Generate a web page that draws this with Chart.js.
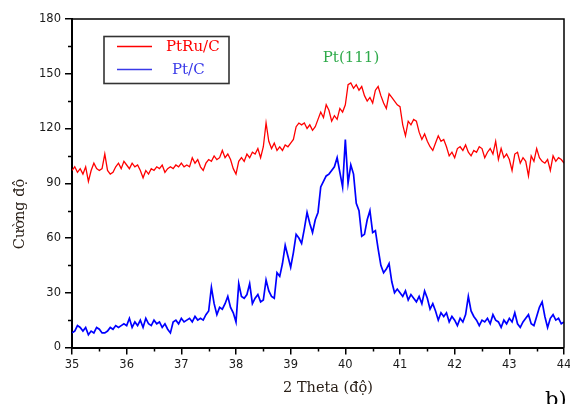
<!DOCTYPE html>
<html>
<head>
<meta charset="utf-8">
<script src="https://cdn.jsdelivr.net/npm/chart.js@4.4.1/dist/chart.umd.min.js"></script>
<style>
  html, body { margin: 0; padding: 0; background: #fff; }
  canvas { display: block; }
</style>
</head>
<body>
<canvas id="c" width="570" height="404"></canvas>
<script>
// ---- Data ----
// 2θ sampling grid: 35.00 .. 44.00 in steps of 0.05 degrees
const twoTheta = Array.from({ length: 181 }, (_, i) => +(35 + i * 0.05).toFixed(2));

const ptRuC = [
  97, 99, 96, 98, 95, 99, 91, 97, 101, 98, 97, 98, 106, 97, 95, 96, 99, 101, 98, 102,
  100, 98, 101, 99, 100, 97, 93, 97, 95, 98, 97, 99, 98, 100, 96, 98, 99, 98, 100, 99,
  101, 99, 100, 99, 104, 101, 103, 99, 97, 101, 103, 102, 105, 103, 104, 108, 104, 106, 103, 98,
  95, 102, 104, 102, 106, 104, 107, 106, 109, 104, 110, 123, 113, 109, 112, 108, 110, 108, 111, 110,
  112, 114, 121, 123, 122, 123, 120, 122, 119, 121, 125, 129, 126, 133, 130, 124, 127, 125, 131, 129,
  133, 144, 145, 142, 144, 141, 143, 138, 135, 137, 134, 141, 143, 138, 134, 131, 139, 137, 135, 133,
  132, 122, 116, 124, 122, 125, 124, 118, 114, 117, 113, 110, 108, 112, 116, 113, 114, 110, 105, 107,
  104, 109, 110, 108, 111, 107, 105, 108, 107, 110, 109, 104, 107, 109, 106, 113, 103, 109, 104, 106,
  103, 97, 106, 107, 101, 104, 102, 94, 105, 102, 109, 104, 102, 101, 103, 97, 105, 102, 104, 103,
  101
];

const ptC = [
  8, 9, 12, 11, 9, 11, 7, 9, 8, 11, 10, 8, 8, 9, 11, 10, 12, 11, 12, 13,
  12, 16, 11, 14, 12, 15, 11, 16, 13, 12, 15, 13, 14, 11, 13, 10, 8, 14, 15, 13,
  16, 14, 15, 16, 14, 17, 15, 16, 15, 18, 20, 33, 24, 18, 22, 21, 24, 28, 22, 19,
  14, 35, 28, 27, 29, 35, 24, 27, 29, 25, 26, 37, 31, 28, 27, 41, 39, 46, 56, 50,
  44, 52, 62, 60, 57, 65, 74, 68, 63, 70, 74, 88, 91, 94, 95, 97, 99, 104, 96, 88,
  114, 90, 100, 95, 79, 75, 61, 62, 70, 75, 63, 64, 54, 45, 41, 43, 46, 36, 30, 32,
  30, 28, 31, 26, 29, 27, 25, 28, 24, 31, 27, 21, 24, 20, 15, 19, 17, 19, 14, 17,
  15, 12, 16, 14, 18, 28, 20, 17, 15, 12, 15, 14, 16, 13, 18, 15, 14, 11, 15, 13,
  16, 14, 19, 13, 11, 14, 16, 18, 13, 12, 17, 22, 25, 17, 11, 16, 18, 15, 16, 13,
  14
];

const seriesNames = ['PtRu/C', 'Pt/C'];
const xMajorTicks = [35, 36, 37, 38, 39, 40, 41, 42, 43, 44];
const xMinorTicks = [35.5, 36.5, 37.5, 38.5, 39.5, 40.5, 41.5, 42.5, 43.5];
const yMajorTicks = [0, 30, 60, 90, 120, 150, 180];
const yMinorTicks = [15, 45, 75, 105, 135, 165];
const xTitle = '2 Theta (độ)';
const yTitle = 'Cường độ';
const peakLabel = 'Pt(111)';
const panelLabel = 'b)';

// ---- Styling ----
const RED = '#ff0000';
const BLUE = '#0000ff';
const TICK_FONT = { family: 'DejaVu Sans', size: 11.5 };
const SERIF = '"DejaVu Serif", "Liberation Serif", serif';

const overlay = {
  id: 'overlay',
  afterDraw(chart) {
    const { ctx, chartArea: a, scales: { x, y } } = chart;
    ctx.save();
    // top and right frame
    ctx.strokeStyle = '#000';
    ctx.lineWidth = 1.5;
    ctx.beginPath();
    ctx.moveTo(a.left, a.top);
    ctx.lineTo(a.right, a.top);
    ctx.lineTo(a.right, a.bottom);
    ctx.stroke();
    // minor ticks (outward)
    ctx.lineWidth = 1.5;
    ctx.beginPath();
    yMinorTicks.forEach(v => {
      const py = Math.round(y.getPixelForValue(v)) + 0.5;
      ctx.moveTo(a.left - 4, py); ctx.lineTo(a.left, py);
    });
    xMinorTicks.forEach(v => {
      const px = Math.round(x.getPixelForValue(v)) + 0.5;
      ctx.moveTo(px, a.bottom); ctx.lineTo(px, a.bottom + 4);
    });
    ctx.stroke();

    // legend box
    ctx.strokeStyle = '#333';
    ctx.lineWidth = 1.6;
    ctx.strokeRect(104, 36.5, 125, 47);
    ctx.lineWidth = 1.3;
    ctx.strokeStyle = RED;
    ctx.beginPath(); ctx.moveTo(117, 46.5); ctx.lineTo(152, 46.5); ctx.stroke();
    ctx.strokeStyle = '#3a3ae8';
    ctx.beginPath(); ctx.moveTo(117, 69.5); ctx.lineTo(152, 69.5); ctx.stroke();
    ctx.font = '15px ' + SERIF;
    ctx.textBaseline = 'middle';
    ctx.textAlign = 'left';
    ctx.fillStyle = RED;
    ctx.fillText(seriesNames[0], 166, 47);
    ctx.fillStyle = '#3a3ae8';
    ctx.fillText(seriesNames[1], 172, 70);

    // peak label
    ctx.fillStyle = '#2eaa4a';
    ctx.textAlign = 'center';
    ctx.fillText(peakLabel, 351, 58);

    // axis titles
    ctx.fillStyle = '#2a2018';
    ctx.font = '14.5px ' + SERIF;
    ctx.fillText(xTitle, 328, 388);
    ctx.save();
    ctx.translate(20, 214);
    ctx.rotate(-Math.PI / 2);
    ctx.fillText(yTitle, 0, 0);
    ctx.restore();

    // panel label
    ctx.fillStyle = '#000';
    ctx.font = '21px ' + SERIF;
    ctx.textAlign = 'left';
    ctx.textBaseline = 'alphabetic';
    ctx.fillText(panelLabel, 545, 406);
    ctx.restore();
  }
};

new Chart(document.getElementById('c'), {
  type: 'line',
  data: {
    labels: twoTheta,
    datasets: [
      {
        label: seriesNames[0],
        data: twoTheta.map((t, i) => ({ x: t, y: ptRuC[i] })),
        borderColor: RED,
        borderWidth: 1.3,
        pointRadius: 0,
        tension: 0,
        fill: false
      },
      {
        label: seriesNames[1],
        data: twoTheta.map((t, i) => ({ x: t, y: ptC[i] })),
        borderColor: BLUE,
        borderWidth: 1.7,
        pointRadius: 0,
        tension: 0,
        fill: false
      }
    ]
  },
  options: {
    responsive: false,
    devicePixelRatio: 1,
    animation: false,
    layout: { padding: { top: 19, right: 6, left: 0, bottom: 0 } },
    plugins: { legend: { display: false }, tooltip: { enabled: false } },
    scales: {
      x: {
        type: 'linear',
        min: 35,
        max: 44,
        afterBuildTicks: s => { s.ticks = xMajorTicks.map(v => ({ value: v })); },
        afterFit: s => { s.height = 56.5; s.paddingLeft = 0; s.paddingRight = 0; },
        ticks: { font: TICK_FONT, color: '#1a1a1a', padding: 4, maxRotation: 0, autoSkip: false },
        grid: { display: true, drawOnChartArea: false, drawTicks: true, tickLength: 7, color: '#000', lineWidth: 1.5 },
        border: { display: true, color: '#000', width: 2 }
      },
      y: {
        min: 0,
        max: 180,
        afterBuildTicks: s => { s.ticks = yMajorTicks.map(v => ({ value: v })); },
        afterFit: s => { s.width = 72; s.paddingTop = 0; s.paddingBottom = 0; },
        ticks: { font: TICK_FONT, color: '#1a1a1a', padding: 4 },
        grid: { display: true, drawOnChartArea: false, drawTicks: true, tickLength: 7, color: '#000', lineWidth: 1.5 },
        border: { display: true, color: '#000', width: 2 }
      }
    }
  },
  plugins: [overlay]
});
</script>
</body>
</html>
